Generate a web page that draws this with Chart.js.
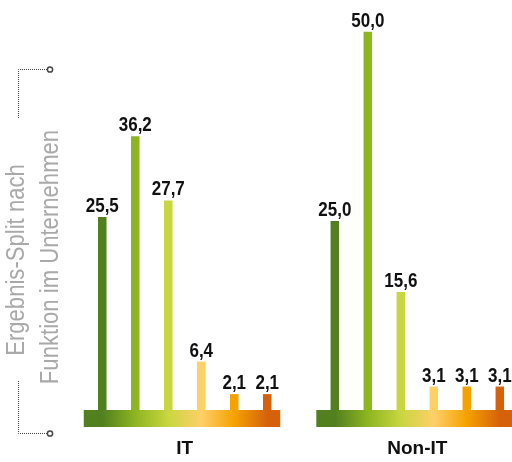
<!DOCTYPE html>
<html>
<head>
<meta charset="utf-8">
<script src="https://cdn.jsdelivr.net/npm/chart.js@4/dist/chart.umd.min.js"></script>
<style>
  html, body { margin: 0; padding: 0; background: #ffffff; }
  #wrap { position: relative; width: 512px; height: 462px; }
</style>
</head>
<body>
<div id="wrap"><canvas id="chart" width="512" height="462"></canvas></div>
<script>
// Groups on the x axis
const groups = ['IT', 'Non-IT'];
// Share per function (percent), one entry per function, IT first then Non-IT
const itValues    = [25.5, 36.2, 27.7, 6.4, 2.1, 2.1];
const nonItValues = [25.0, 50.0, 15.6, 3.1, 3.1, 3.1];
// One colour per function, dark green through dark orange
const funcColors = ['#52801e', '#8db520', '#c8d640', '#fdd068', '#f5a200', '#d5620a'];
// Side caption lines
const captionLines = ['Ergebnis-Split nach', 'Funktion im Unternehmen'];

const FONT = '"Liberation Sans", Arial, sans-serif';
const NARROW = 0.85;        // horizontal squeeze for the caption
const NARROW_VALUES = 0.81; // horizontal squeeze for the bar values

const datasets = funcColors.map((c, i) => ({
  label: 'F' + (i + 1),
  data: [{ x: 0, y: itValues[i] }, { x: 1, y: nonItValues[i] }],
  backgroundColor: c,
  borderWidth: 0,
  categoryPercentage: 0.8514,
  barPercentage: 0.2576
}));

const fmt = v => v.toFixed(1).replace('.', ',');

// Gradient strip under each group of bars
const baseStrip = {
  id: 'baseStrip',
  beforeDatasetsDraw(chart) {
    const ctx = chart.ctx;
    const y0 = chart.scales.y.getPixelForValue(0);
    const n = chart.data.datasets.length;
    for (let g = 0; g < groups.length; g++) {
      const xs = [];
      for (let d = 0; d < n; d++) xs.push(chart.getDatasetMeta(d).data[g].x);
      const left = xs[0] - 18.5, right = xs[n - 1] + 13;
      const grad = ctx.createLinearGradient(left, 0, right, 0);
      grad.addColorStop(0, funcColors[0]);
      xs.forEach((x, i) => grad.addColorStop((x - left) / (right - left), funcColors[i]));
      grad.addColorStop(1, funcColors[n - 1]);
      ctx.save();
      ctx.fillStyle = grad;
      ctx.fillRect(left, y0, right - left, 17);
      ctx.restore();
    }
  }
};

// Value written above each bar
const valueLabels = {
  id: 'valueLabels',
  afterDatasetsDraw(chart) {
    const ctx = chart.ctx;
    ctx.save();
    ctx.font = 'bold 21px ' + FONT;
    ctx.fillStyle = '#111111';
    ctx.textAlign = 'center';
    ctx.textBaseline = 'alphabetic';
    chart.data.datasets.forEach((ds, d) => {
      chart.getDatasetMeta(d).data.forEach((bar, i) => {
        ctx.save();
        ctx.translate(bar.x, bar.y - 5);
        ctx.scale(NARROW_VALUES, 1);
        ctx.fillText(fmt(ds.data[i].y), 0, 0);
        ctx.restore();
      });
    });
    ctx.restore();
  }
};

// Rotated caption with dotted brackets on the left
const sideCaption = {
  id: 'sideCaption',
  afterDraw(chart) {
    const ctx = chart.ctx;
    ctx.save();
    ctx.strokeStyle = '#444444';
    ctx.lineWidth = 1;
    ctx.setLineDash([1, 1]);
    ctx.beginPath();
    ctx.moveTo(18.5, 118); ctx.lineTo(18.5, 69.5); ctx.lineTo(47, 69.5);
    ctx.moveTo(18.5, 381); ctx.lineTo(18.5, 433.5); ctx.lineTo(47, 433.5);
    ctx.stroke();
    ctx.setLineDash([]);
    ctx.lineWidth = 1.5;
    [69.5, 433.5].forEach(y => {
      ctx.beginPath();
      ctx.arc(50, y, 2.6, 0, Math.PI * 2);
      ctx.fillStyle = '#ffffff';
      ctx.fill();
      ctx.stroke();
    });

    ctx.fillStyle = '#a9a9a9';
    ctx.font = '26px ' + FONT;
    ctx.textAlign = 'center';
    ctx.textBaseline = 'alphabetic';
    const baselines = [24, 58];
    const centers = [260, 257];
    captionLines.forEach((t, i) => {
      ctx.save();
      ctx.translate(baselines[i], centers[i]);
      ctx.rotate(-Math.PI / 2);
      ctx.scale(NARROW, 1);
      ctx.fillText(t, 0, 0);
      ctx.restore();
    });
    ctx.restore();
  }
};

new Chart(document.getElementById('chart'), {
  type: 'bar',
  data: { datasets },
  options: {
    responsive: false,
    animation: false,
    layout: { padding: 0 },
    plugins: { legend: { display: false }, tooltip: { enabled: false } },
    scales: {
      x: {
        type: 'linear',
        offset: false,
        min: -0.7945,
        max: 1.4072,
        grid: { display: false, drawTicks: false, offset: false },
        border: { display: false },
        afterBuildTicks(scale) { scale.ticks = groups.map((g, i) => ({ value: i })); },
        afterFit(scale) { scale.height = 52; },
        ticks: {
          padding: 27,
          color: '#111111',
          font: { family: FONT, size: 19, weight: 'bold' },
          callback: v => groups[v]
        }
      },
      y: {
        display: false,
        min: 0,
        max: 54.2
      }
    }
  },
  plugins: [baseStrip, valueLabels, sideCaption]
});
</script>
</body>
</html>
